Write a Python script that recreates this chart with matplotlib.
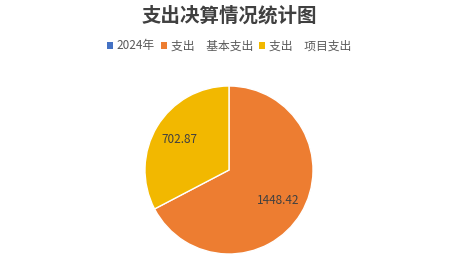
import matplotlib
matplotlib.use('Agg')
import matplotlib.pyplot as plt
from matplotlib.patches import Patch

plt.rcParams['font.family'] = ['Noto Sans CJK SC', 'DejaVu Sans']

# spending breakdown (10k yuan)
title = '支出决算情况统计图'
series_names = ['2024年', '支出\u3000基本支出', '支出\u3000项目支出']
series_colors = ['#4472C4', '#ED7D31', '#F2B800']
values = [1448.42, 702.87]

fig = plt.figure(figsize=(4.5, 2.62), dpi=100)
ax = fig.add_axes([0, 0, 1, 1])
ax.set_xlim(0, 450)
ax.set_ylim(262, 0)
ax.axis('off')

# pie in its own axes so it stays round
pax = fig.add_axes([(229 - 84) / 450, 1 - (170 + 84) / 262, 168 / 450, 168 / 262])
wedges, texts = pax.pie(values, colors=series_colors[1:], startangle=90,
                        counterclock=False, labels=[f'{v:.2f}' for v in values],
                        labeldistance=0.69,
                        wedgeprops=dict(edgecolor='white', linewidth=1.0),
                        textprops=dict(color='#404040', fontsize=8.5))
for t in texts:
    t.set_horizontalalignment('center')
    t.set_verticalalignment('center')
pax.set_xlim(-1, 1)
pax.set_ylim(-1, 1)
pax.set_aspect('equal')

fig.text(229 / 450, 1 - 16 / 262, title, ha='center', va='center',
         fontsize=14, fontweight='bold', color='#404040')

handles = [Patch(facecolor=c, edgecolor='none') for c in series_colors]
fig.legend(handles, series_names, loc='center', bbox_to_anchor=(229 / 450, 1 - 46 / 262),
           ncol=3, frameon=False, fontsize=8.5, labelcolor='#595959',
           handlelength=0.55, handleheight=0.55, handletextpad=0.3, columnspacing=0.5)

fig.savefig('out.png', dpi=100)
